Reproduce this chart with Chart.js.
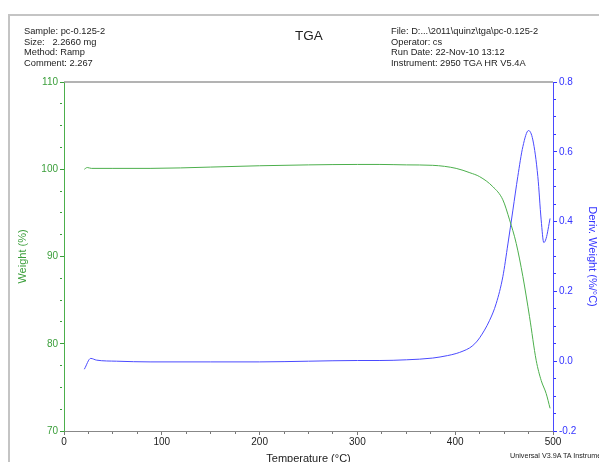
<!DOCTYPE html>
<html>
<head>
<meta charset="utf-8">
<script src="https://cdn.jsdelivr.net/npm/chart.js@4/dist/chart.umd.min.js"></script>
<style>
  html, body { margin: 0; padding: 0; width: 599px; height: 462px; overflow: hidden; background: #fff; }
  body { position: relative; font-family: "Liberation Sans", Arial, sans-serif; color: #222; }
  #frame { position: absolute; left: 8px; top: 14px; width: 700px; height: 600px;
           border-left: 2px solid #c4c4c4; border-top: 2px solid #c4c4c4; }
  #wrap { position: absolute; left: 0; top: 0; width: 599px; height: 466px; }
  .info { position: absolute; font-size: 9.3px; line-height: 10.7px; white-space: nowrap; }
  #title { position: absolute; left: 295px; top: 28.5px; font-size: 13.5px; line-height: 14px; }
  #foot { position: absolute; left: 510px; top: 451px; font-size: 7.2px; white-space: nowrap; }
</style>
</head>
<body>
<div id="frame"></div>
<div id="wrap"><canvas id="tga" width="599" height="466"></canvas></div>
<div class="info" style="left:24px; top:26px;">Sample: pc-0.125-2<br>Size:&nbsp;&nbsp; 2.2660 mg<br>Method: Ramp<br>Comment: 2.267</div>
<div id="title">TGA</div>
<div class="info" style="left:391px; top:26px;">File: D:...\2011\quinz\tga\pc-0.125-2<br>Operator: cs<br>Run Date: 22-Nov-10 13:12<br>Instrument: 2950 TGA HR V5.4A</div>
<div id="foot">Universal V3.9A TA Instruments</div>
<script>
// Weight curve (left axis)
const weightTemps = [20.8, 23.8, 28, 50, 88, 150, 200, 250, 300, 323, 350, 377, 401, 415, 425, 438.5, 448.7, 455.6, 462.4, 469.2, 476, 482.8, 487.9, 493, 497];
const weightValues = [100.0, 100.2, 100.1, 100.1, 100.1, 100.25, 100.4, 100.5, 100.55, 100.55, 100.5, 100.45, 100.1, 99.6, 99.15, 98.0, 96.5, 94.2, 91.5, 87.7, 83.1, 78.1, 75.8, 74.3, 72.6];

// Derivative weight curve (right axis)
const derivTemps = [20.8, 27.3, 33.4, 53.8, 88, 150, 200, 250, 300, 323, 350, 377, 392, 401, 408, 414.7, 420, 425, 435, 442, 448.7, 453.9, 459, 464, 469.2, 475, 479.4, 484.5, 487.9, 490.6, 493, 497];
const derivValues = [-0.023, 0.008, 0.003, 0.0, -0.002, -0.002, -0.002, 0.0, 0.002, 0.002, 0.004, 0.009, 0.016, 0.022, 0.029, 0.038, 0.050, 0.067, 0.116, 0.166, 0.242, 0.336, 0.433, 0.529, 0.615, 0.661, 0.634, 0.529, 0.405, 0.340, 0.352, 0.409];

const xMajor = [0, 100, 200, 300, 400, 500];
const weightMajor = [70, 80, 90, 100, 110];
const derivMajor = [-0.2, 0.0, 0.2, 0.4, 0.6, 0.8];

const GREEN_LINE = "#4caf4c";
const GREEN_AXIS = "#3a9e3a";
const BLUE_LINE = "#4a4aff";
const BLUE_AXIS = "#3434ff";

function isMajor(list, v) {
  return list.some(m => Math.abs(m - v) < 1e-6);
}

// gray frame line along the top of the plot
const topLine = {
  id: "topLine",
  afterDraw(chart) {
    const a = chart.chartArea, ctx = chart.ctx;
    ctx.save();
    ctx.strokeStyle = "#9a9a9a";
    ctx.lineWidth = 1.5;
    ctx.beginPath();
    ctx.moveTo(a.left, a.top);
    ctx.lineTo(a.right, a.top);
    ctx.stroke();
    ctx.restore();
  }
};

const font = { family: "'Liberation Sans', Arial, sans-serif", size: 10 };

new Chart(document.getElementById("tga"), {
  type: "line",
  data: {
    datasets: [
      {
        label: "Weight",
        data: weightTemps.map((t, i) => ({ x: t, y: weightValues[i] })),
        yAxisID: "yW",
        borderColor: GREEN_LINE,
        borderWidth: 1,
        pointRadius: 0,
        cubicInterpolationMode: "monotone"
      },
      {
        label: "Deriv. Weight",
        data: derivTemps.map((t, i) => ({ x: t, y: derivValues[i] })),
        yAxisID: "yD",
        borderColor: BLUE_LINE,
        borderWidth: 1,
        pointRadius: 0,
        cubicInterpolationMode: "monotone"
      }
    ]
  },
  options: {
    responsive: false,
    animation: false,
    layout: { padding: { top: 82, left: 0, right: 0, bottom: 0 } },
    plugins: { legend: { display: false }, tooltip: { enabled: false } },
    scales: {
      x: {
        type: "linear",
        min: 0, max: 500,
        afterFit: s => { s.height = 35; },
        ticks: {
          stepSize: 25, autoSkip: false, maxRotation: 0, padding: 1,
          color: "#222", font: font,
          callback: v => isMajor(xMajor, v) ? v : ""
        },
        grid: {
          drawOnChartArea: false, tickLength: 4, color: "#777",
          tickBorderDash: c => isMajor(xMajor, c.tick.value) ? [] : [2, 10]
        },
        border: { color: "#888", width: 1 },
        title: { display: true, text: "Temperature (°C)", color: "#222",
                 font: { family: font.family, size: 11 }, padding: { top: 0, bottom: 0 } }
      },
      yW: {
        position: "left",
        min: 70, max: 110,
        afterFit: s => { s.width = 64; },
        ticks: {
          stepSize: 2.5, autoSkip: false, padding: 2,
          color: GREEN_AXIS, font: font,
          callback: v => isMajor(weightMajor, v) ? v : ""
        },
        grid: {
          drawOnChartArea: false, tickLength: 4, color: GREEN_AXIS,
          tickBorderDash: c => isMajor(weightMajor, c.tick.value) ? [] : [2, 10]
        },
        border: { color: GREEN_LINE, width: 1 },
        title: { display: true, text: "Weight (%)", color: GREEN_AXIS,
                 font: { family: font.family, size: 11 }, padding: { top: 16, bottom: 0 } }
      },
      yD: {
        position: "right",
        min: -0.2, max: 0.8,
        afterFit: s => { s.width = 46; },
        ticks: {
          stepSize: 0.05, autoSkip: false, padding: 2,
          color: BLUE_AXIS, font: font,
          callback: v => isMajor(derivMajor, v) ? v.toFixed(1) : ""
        },
        grid: {
          drawOnChartArea: false, tickLength: 4, color: BLUE_AXIS,
          tickBorderDash: c => isMajor(derivMajor, c.tick.value) ? [] : [2, 10]
        },
        border: { color: BLUE_LINE, width: 1 },
        title: { display: true, text: "Deriv. Weight (%/°C)", color: BLUE_AXIS,
                 font: { family: font.family, size: 11 }, padding: { top: 0, bottom: 0 } }
      }
    }
  },
  plugins: [topLine]
});
</script>
</body>
</html>
